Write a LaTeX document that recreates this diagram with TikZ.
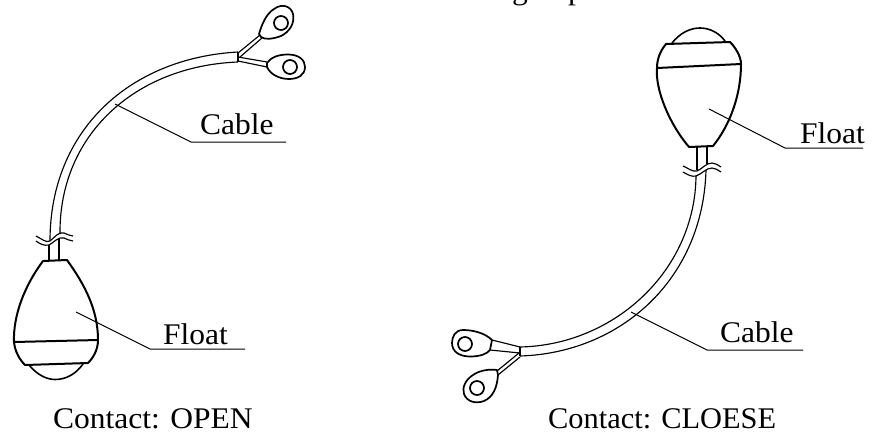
\documentclass[tikz,border=0pt]{standalone}
\usepackage{fontspec}
\usepackage{graphicx}
\setmainfont[FakeStretch=1.05]{Liberation Serif}
\tikzset{
  body/.style={draw=black,line width=2pt,line join=round,line cap=round},
  wire/.style={draw=black,line width=1.15pt,line join=round},
  lug/.style={draw=black,line width=1.7pt,line join=round},
  lead/.style={draw=black,line width=1pt},
  lbl/.style={inner sep=0pt,anchor=base west,font=\fontsize{30}{36}\selectfont}
}
\begin{document}
\begin{tikzpicture}[x=1pt,y=-1pt]
\useasboundingbox (0,0) rectangle (877,434);
% clipped caption remains at the top edge
\begin{scope}
\clip (0,0) rectangle (877,434);
\node[lbl,anchor=base] (capg) at (520,-1) {g};
\node[lbl,anchor=base] (capp) at (576,-1) {p};
\end{scope}
% ---- left float ----
\draw[body] (43,261) -- (67,260);
\draw[body] (43,261) .. controls (25,285) and (13,315) .. (14,342)
            .. controls (15,352) and (20,360) .. (25,365) -- (88,363)
            .. controls (93,358) and (98,350) .. (98,340)
            .. controls (98,310) and (85,285) .. (67,260);
\draw[body] (14,342) -- (98,340);
\draw[body,line width=1.6pt] (29,365) .. controls (38,376) and (48,379.5) .. (55,379.5)
            .. controls (66,379.5) and (76,374) .. (83,364);
% left cable
\draw[wire] (49,260) -- (49,245);
\draw[wire] (59,260) -- (59,238);
\draw[wire] (36,236) .. controls (42,239) and (46,243) .. (50,241)
            .. controls (54,238) and (59,231) .. (64,233) .. controls (67,234) and (70,236) .. (73,236);
\draw[wire] (36,241) .. controls (40,244) and (44,246) .. (49,245)
            .. controls (53,243) and (59,236) .. (64,238) .. controls (67,239) and (70,241) .. (73,241);
\draw[wire] (50,241) .. controls (50,130) and (130,58) .. (238,52);
\draw[wire] (60,234) .. controls (59,135) and (135,66) .. (238,62);
\draw[wire] (238,52) -- (238,62);
% upper right lugs
\draw[wire] (238,53) -- (260,35);
\draw[wire] (240,57) -- (262,38);
\draw[wire] (238,57) -- (267,62);
\draw[wire] (238,61) -- (267,67);
\draw[lug] (259,34) .. controls (262,24) and (266,14) .. (274,9)
           .. controls (282,3) and (291,6) .. (293,14)
           .. controls (295,24) and (289,32) .. (281,36)
           .. controls (273,39) and (265,40) .. (261,37) -- cycle;
\draw[lug] (281,23) circle (7);
\draw[lug] (267,63) .. controls (271,57) and (279,54.5) .. (288,54.5)
           .. controls (299,54.5) and (305,60) .. (305,67)
           .. controls (305,75) and (298,79) .. (289,79)
           .. controls (279,79) and (270,74) .. (267,67) -- cycle;
\draw[lug] (290,67) circle (7);
% left labels
\coordinate (cl1) at (115,104);
\coordinate (cl2) at (191,142);
\coordinate (cl3) at (286,142);
\draw[lead] (cl1) -- (cl2) -- (cl3);
\node[lbl] (cablea) at (200,134) {Cable};
\coordinate (fl1) at (76,312);
\coordinate (fl2) at (150,349);
\coordinate (fl3) at (245,349);
\draw[lead] (fl1) -- (fl2) -- (fl3);
\node[lbl] (floata) at (163,344) {Float};
\node[lbl] (conta) at (53,428) {Contact: OPEN};
% ---- right float ----
\draw[body] (689,147) -- (713,146);
\draw[body] (689,147) .. controls (670,125) and (655,90) .. (657,68)
            .. controls (657,58) and (661,50) .. (666,44) -- (730,42)
            .. controls (735,47) and (741,56) .. (741,64)
            .. controls (741,95) and (730,125) .. (713,146);
\draw[body] (657,68) -- (741,64);
\draw[body,line width=1.6pt] (672,43) .. controls (680,33) and (690,28) .. (700,28)
            .. controls (710,28) and (719,33) .. (725,41);
% right cable
\draw[wire] (697,147) -- (697,170);
\draw[wire] (707,147) -- (707,164);
\draw[wire] (683,166) .. controls (688,168) and (692,172) .. (697,171)
            .. controls (702,169) and (706,163) .. (712,163) .. controls (715,163) and (718,165) .. (721,167);
\draw[wire] (683,172) .. controls (688,175) and (692,177) .. (696,176)
            .. controls (702,174) and (706,168) .. (712,168) .. controls (715,168) and (718,170) .. (721,172);
\draw[wire] (696,176) .. controls (695,270) and (615,345) .. (520,347);
\draw[wire] (706,170) .. controls (703,280) and (620,353) .. (520,356);
\draw[wire] (520,347) -- (520,356);
% lower left lugs
\draw[wire] (492,340) -- (520,347);
\draw[wire] (490,350) -- (520,353);
\draw[wire] (497,371) -- (519,353);
\draw[wire] (498,375) -- (520,357);
\draw[lug] (492,340) .. controls (485,333) and (473,330) .. (463,330)
           .. controls (455,330) and (452,337) .. (452,343)
           .. controls (452,352) and (460,356.5) .. (470,356.5)
           .. controls (480,356.5) and (487,354) .. (490,350) -- cycle;
\draw[lug] (465,344) circle (7);
\draw[lug] (497,370) .. controls (490,369) and (480,370) .. (473,375)
           .. controls (465,380) and (462,388) .. (464,394)
           .. controls (467,402) and (476,404) .. (484,401)
           .. controls (493,397) and (497,388) .. (498,375) -- cycle;
\draw[lug] (477,388) circle (7);
% right labels
\coordinate (cr1) at (631,312);
\coordinate (cr2) at (707,350);
\coordinate (cr3) at (803,350);
\draw[lead] (cr1) -- (cr2) -- (cr3);
\node[lbl] (cableb) at (720,342) {Cable};
\coordinate (fr1) at (709,109);
\coordinate (fr2) at (785,148);
\coordinate (fr3) at (863,148);
\draw[lead] (fr1) -- (fr2) -- (fr3);
\node[lbl] (floatb) at (800,143) {Float};
\node[lbl] (contb) at (548,428) {\scalebox{0.965}[1]{Contact: CLOESE}};
\end{tikzpicture}
\end{document}
